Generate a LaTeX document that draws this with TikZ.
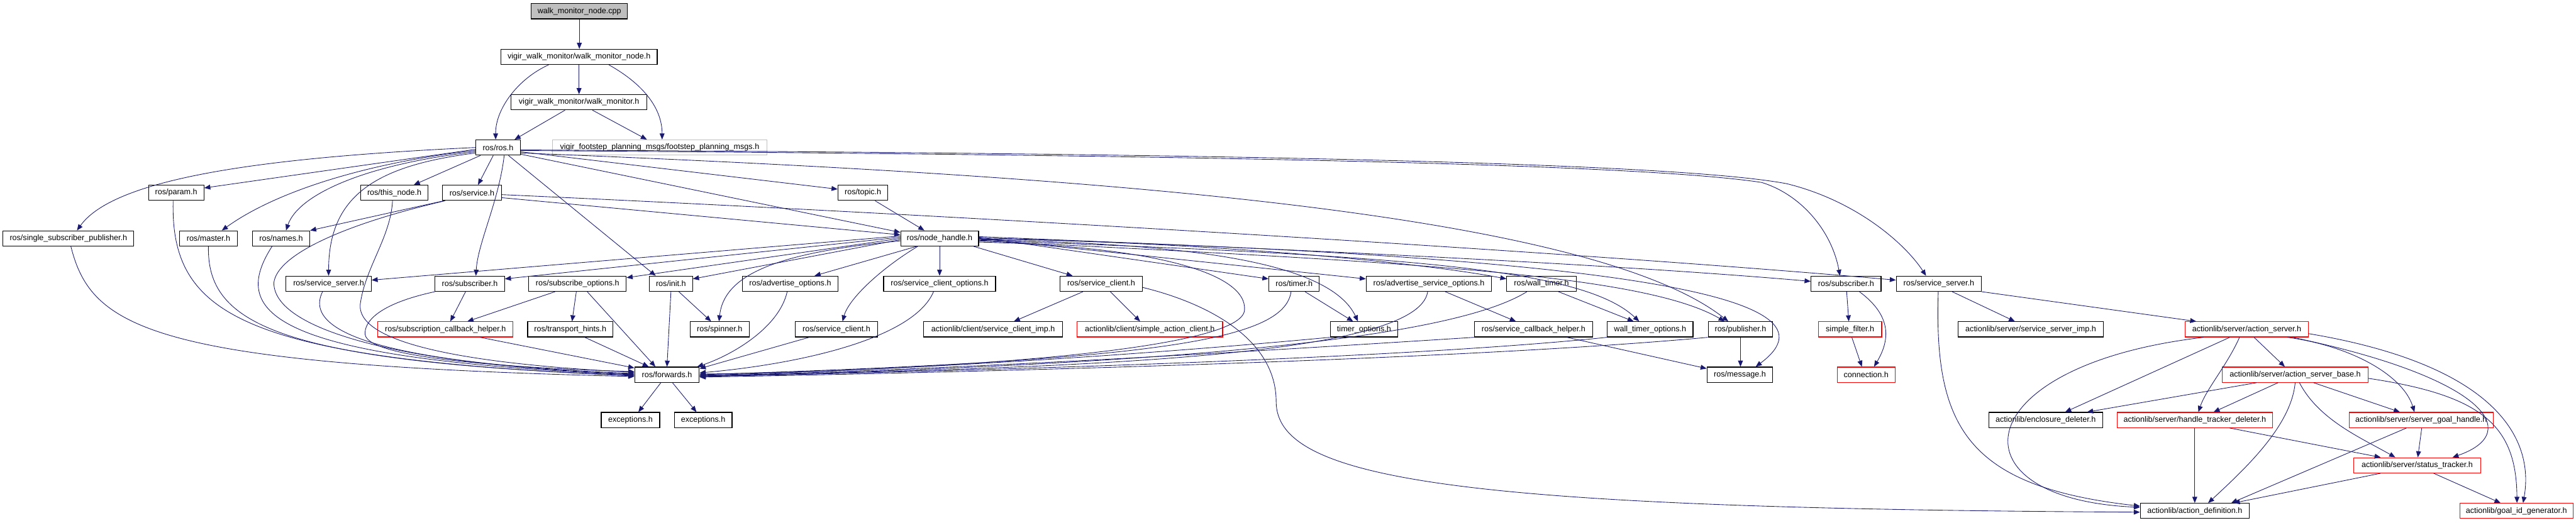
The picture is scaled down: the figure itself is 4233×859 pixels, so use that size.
\documentclass[tikz,border=0pt]{standalone}
\usepackage{fontspec}
\setmainfont{Liberation Sans}
\usetikzlibrary{arrows.meta}
\definecolor{edgec}{RGB}{25,25,112}
\definecolor{rootfill}{RGB}{191,191,191}
\definecolor{graybd}{RGB}{191,191,191}
\begin{document}
\begin{tikzpicture}[x=1pt,y=-1pt,
  box/.style={draw=black,line width=1.2pt,fill=white,minimum height=25pt,inner sep=0pt,font=\fontsize{13}{15}\selectfont},
  rootbox/.style={box,fill=rootfill},
  greybox/.style={box,draw=graybd},
  redbox/.style={box,draw=red},
  e/.style={draw=edgec,line width=0.9pt,-{Triangle[length=10pt,width=8pt]}}]
\useasboundingbox (0,0) rectangle (4233,859);
% nodes
\node[rootbox,minimum width=158pt] (cpp) at (952,18.5) {walk\_monitor\_node.cpp};
\node[box,minimum width=257pt] (wmn) at (951.5,93.5) {vigir\_walk\_monitor/walk\_monitor\_node.h};
\node[box,minimum width=223pt] (wm) at (951.5,168) {vigir\_walk\_monitor/walk\_monitor.h};
\node[box,minimum width=73pt] (ros) at (818.5,242.5) {ros/ros.h};
\node[greybox,minimum width=352pt] (fsp) at (1084,242.5) {vigir\_footstep\_planning\_msgs/footstep\_planning\_msgs.h};
\node[box,minimum width=91pt] (param) at (289.5,317) {ros/param.h};
\node[box,minimum width=110pt] (thisnode) at (648,317) {ros/this\_node.h};
\node[box,minimum width=97pt] (service) at (775.5,317) {ros/service.h};
\node[box,minimum width=82pt] (topic) at (1418,317) {ros/topic.h};
\node[box,minimum width=215pt] (ssp) at (112.5,392) {ros/single\_subscriber\_publisher.h};
\node[box,minimum width=95pt] (master) at (342.5,392) {ros/master.h};
\node[box,minimum width=94pt] (names) at (462,392) {ros/names.h};
\node[box,minimum width=128pt] (nh) at (1544,392) {ros/node\_handle.h};
\node[box,minimum width=140pt] (ssrvL) at (540,466.5) {ros/service\_server.h};
\node[box,minimum width=114pt] (subL) at (772,466.5) {ros/subscriber.h};
\node[box,minimum width=160pt] (subopt) at (949,466.5) {ros/subscribe\_options.h};
\node[box,minimum width=71pt] (init) at (1102.5,466.5) {ros/init.h};
\node[box,minimum width=157pt] (advopt) at (1298.5,466.5) {ros/advertise\_options.h};
\node[box,minimum width=184pt] (scopt) at (1544,466.5) {ros/service\_client\_options.h};
\node[box,minimum width=135pt] (scU) at (1809.5,466.5) {ros/service\_client.h};
\node[box,minimum width=83pt] (timer) at (2126.5,466.5) {ros/timer.h};
\node[box,minimum width=206pt] (advsrvopt) at (2348,466.5) {ros/advertise\_service\_options.h};
\node[box,minimum width=114pt] (wtimer) at (2533,466.5) {ros/wall\_timer.h};
\node[box,minimum width=115pt] (subR) at (3033.5,466.5) {ros/subscriber.h};
\node[box,minimum width=140pt] (ssrvR) at (3186,466.5) {ros/service\_server.h};
\node[redbox,minimum width=222pt] (sch) at (732,541.5) {ros/subscription\_callback\_helper.h};
\node[box,minimum width=140pt] (th) at (937,541.5) {ros/transport\_hints.h};
\node[box,minimum width=97pt] (spinner) at (1182.5,541.5) {ros/spinner.h};
\node[box,minimum width=135pt] (scL) at (1374.5,541.5) {ros/service\_client.h};
\node[box,minimum width=228pt] (scimp) at (1632,541.5) {actionlib/client/service\_client\_imp.h};
\node[redbox,minimum width=239pt] (sac) at (1889.5,541.5) {actionlib/client/simple\_action\_client.h};
\node[box,minimum width=111pt] (topt) at (2241.5,541.5) {timer\_options.h};
\node[box,minimum width=194pt] (srvcb) at (2520,541.5) {ros/service\_callback\_helper.h};
\node[box,minimum width=141pt] (wtopt) at (2711.5,541.5) {wall\_timer\_options.h};
\node[box,minimum width=106pt] (pub) at (2860,541.5) {ros/publisher.h};
\node[redbox,minimum width=104pt] (sf) at (3040,541.5) {simple\_filter.h};
\node[box,minimum width=238pt] (ssimp) at (3337,541.5) {actionlib/server/service\_server\_imp.h};
\node[redbox,minimum width=202pt] (as) at (3692,541.5) {actionlib/server/action\_server.h};
\node[box,minimum width=106pt] (fwd) at (1096,616) {ros/forwards.h};
\node[box,minimum width=108pt] (msg) at (2859,616) {ros/message.h};
\node[redbox,minimum width=95pt] (conn) at (3066.5,616) {connection.h};
\node[redbox,minimum width=239pt] (asb) at (3771.5,616) {actionlib/server/action\_server\_base.h};
\node[box,minimum width=96pt] (exc1) at (1036,690.5) {exceptions.h};
\node[box,minimum width=95pt] (exc2) at (1155.5,690.5) {exceptions.h};
\node[box,minimum width=187pt] (encl) at (3361.5,690.5) {actionlib/enclosure\_deleter.h};
\node[redbox,minimum width=255pt] (htd) at (3606.5,690.5) {actionlib/server/handle\_tracker\_deleter.h};
\node[redbox,minimum width=237pt] (sgh) at (3978.5,690.5) {actionlib/server/server\_goal\_handle.h};
\node[redbox,minimum width=208pt] (st) at (3972,765) {actionlib/server/status\_tracker.h};
\node[box,minimum width=179pt] (ad) at (3606.5,840) {actionlib/action\_definition.h};
\node[redbox,minimum width=186pt] (gid) at (4135,840) {actionlib/goal\_id\_generator.h};
% top edges
\draw[e] (cpp.south) -- (cpp.south |- wmn.north);
\draw[e] ([xshift=-50pt]wmn.south) .. controls (850,130) and (814,180) .. ([xshift=-4pt]ros.north);
\draw[e] (wmn.south) -- (wm.north);
\draw[e] ([xshift=49pt]wmn.south) .. controls (1060,140) and (1088,180) .. ([xshift=4pt]fsp.north);
\draw[e] ([xshift=-23pt]wm.south) -- ([xshift=27pt]ros.north);
\draw[e] ([xshift=22pt]wm.south) -- ([xshift=-21pt]fsp.north);
% ros/ros.h
\draw[e] (ros.west) .. controls (450,258) and (190,290) .. ([xshift=14pt]ssp.north);
\draw[e] ([yshift=-3pt]ros.west) -- ([yshift=8pt]param.east);
\draw[e] ([yshift=-5pt]ros.west) .. controls (620,265) and (460,310) .. ([xshift=22pt]master.north);
\draw[e] ([yshift=-7pt]ros.west) .. controls (600,270) and (490,320) .. ([xshift=8pt]names.north);
\draw[e] ([yshift=-9pt]ros.west) .. controls (620,272) and (540,320) .. (ssrvL.north);
\draw[e] ([xshift=-29pt]ros.south) -- ([xshift=32pt]thisnode.north);
\draw[e] ([xshift=-8pt]ros.south) -- ([xshift=10pt]service.north);
\draw[e] ([xshift=10pt]ros.south) .. controls (820,330) and (785,400) .. ([xshift=10pt]subL.north);
\draw[e] ([xshift=17pt]ros.south) -- ([xshift=-25pt]init.north);
\draw[e] ([yshift=-5pt]ros.east) .. controls (2000,255) and (2700,270) .. (2895,300) .. controls (2960,320) and (3010,380) .. ([xshift=-10pt]subR.north);
\draw[e] ([yshift=-4pt]ros.east) .. controls (2000,252) and (2750,267) .. (2936,302) .. controls (3050,330) and (3130,400) .. ([xshift=-21pt]ssrvR.north);
\draw[e] ([yshift=-7pt]ros.east) -- ([yshift=6pt]topic.west);
\draw[e] ([yshift=-9pt]ros.east) .. controls (1700,285) and (2600,340) .. ([xshift=-20pt]pub.north);
\draw[e] ([yshift=-11pt]ros.east) -- ([yshift=10pt]nh.west);
% service.h, topic.h
\draw[e] ([xshift=3pt]service.south west) -- (names.north east);
\draw[e] ([xshift=5pt]service.south west) .. controls (560,370) and (455,420) .. (450,465) .. controls (450,540) and (650,600) .. ([yshift=1pt]fwd.west);
\draw[e] ([yshift=-8pt]service.east) -- ([yshift=6pt]nh.west);
\draw[e] ([yshift=-3pt]service.east) .. controls (1600,355) and (2600,415) .. ([yshift=6pt]ssrvR.west);
\draw[e] ([xshift=20pt]topic.south) -- ([xshift=-25pt]nh.north);
% into forwards.h from the left
\draw[e] ([xshift=4pt]ssp.south) .. controls (150,540) and (250,600) .. ([yshift=-3pt]fwd.west);
\draw[e] ([xshift=-5pt]param.south) .. controls (280,520) and (400,590) .. ([yshift=-2pt]fwd.west);
\draw[e] (master.south) .. controls (340,530) and (450,595) .. ([yshift=-1pt]fwd.west);
\draw[e] ([xshift=-15pt]names.south) .. controls (380,510) and (430,590) .. (fwd.west);
\draw[e] ([xshift=-10pt]ssrvL.south) .. controls (490,560) and (700,600) .. ([yshift=2pt]fwd.west);
\draw[e] ([xshift=-3pt]thisnode.south) .. controls (642,390) and (600,440) .. (592,500) .. controls (585,570) and (800,600) .. ([yshift=4pt]fwd.west);
\draw[e] (subL.south west) .. controls (620,500) and (598,530) .. (600,550) .. controls (605,590) and (850,605) .. ([yshift=5pt]fwd.west);
\draw[e] ([xshift=57pt]sch.south) -- ([yshift=-2pt]fwd.north west);
\draw[e] ([xshift=24pt]th.south) -- ([xshift=-30pt]fwd.north);
\draw[e] ([xshift=16pt]subopt.south) -- ([xshift=-19pt]fwd.north);
\draw[e] (init.south) -- (fwd.north);
\draw[e] ([xshift=-37pt]subopt.south) -- ([xshift=36pt]sch.north);
\draw[e] ([xshift=-2pt]subopt.south) -- ([xshift=3pt]th.north);
\draw[e] ([xshift=-7pt]subL.south) -- ([xshift=8pt]sch.north);
\draw[e] ([xshift=13pt]init.south) -- ([xshift=-14pt]spinner.north);
% into forwards.h from the right
\draw[e] ([xshift=-5pt]advopt.south) .. controls (1280,540) and (1200,585) .. ([xshift=-4pt]fwd.north east);
\draw[e] ([xshift=-45pt]scL.south) -- ([yshift=10pt]fwd.east);
\draw[e] ([xshift=-10pt]scopt.south) .. controls (1500,560) and (1300,600) .. ([yshift=3pt]fwd.east);
\draw[e] ([yshift=-6pt]nh.east) .. controls (1900,405) and (2050,450) .. (2045,510) .. controls (2040,580) and (1500,610) .. ([yshift=1pt]fwd.east);
\draw[e] ([xshift=-5pt]timer.south) .. controls (2110,560) and (1900,592) .. (fwd.east);
\draw[e] (topt.south west) .. controls (2000,572) and (1600,605) .. ([yshift=-1pt]fwd.east);
\draw[e] ([xshift=-2pt]advsrvopt.south) .. controls (2330,585) and (1800,605) .. ([yshift=-2pt]fwd.east);
\draw[e] (srvcb.south west) .. controls (2100,575) and (1600,607) .. ([yshift=-2pt]fwd.east);
\draw[e] ([xshift=-24pt]wtimer.south) .. controls (2380,560) and (1900,600) .. ([yshift=-3pt]fwd.east);
\draw[e] (wtopt.south west) .. controls (2300,590) and (1600,610) .. ([yshift=-3pt]fwd.east);
\draw[e] (pub.south west) .. controls (2400,592) and (1600,612) .. ([yshift=-4pt]fwd.east);
\draw[e] ([xshift=-10pt]fwd.south) -- ([xshift=13pt]exc1.north);
\draw[e] ([xshift=9pt]fwd.south) -- ([xshift=-11pt]exc2.north);
% node_handle.h
\draw[e] ([yshift=4pt]nh.west) -- ([yshift=6pt]ssrvL.east);
\draw[e] ([yshift=2pt]nh.west) -- ([yshift=8pt]subL.east);
\draw[e] (nh.west) -- ([yshift=10pt]subopt.east);
\draw[e] ([yshift=-2pt]nh.west) -- ([yshift=8pt]init.east);
\draw[e] ([yshift=-4pt]nh.west) .. controls (1280,415) and (1190,450) .. ([xshift=-1pt]spinner.north);
\draw[e] ([xshift=-38pt]nh.south) -- ([xshift=40pt]advopt.north);
\draw[e] ([xshift=-36pt]nh.south) .. controls (1450,440) and (1395,490) .. ([xshift=10pt]scL.north);
\draw[e] (nh.south) -- (scopt.north);
\draw[e] ([xshift=56pt]nh.south) -- ([xshift=-47pt]scU.north);
\draw[e] ([yshift=2pt]nh.east) -- ([yshift=8pt]timer.west);
\draw[e] (nh.east) -- ([yshift=8pt]advsrvopt.west);
\draw[e] ([yshift=-2pt]nh.east) .. controls (1900,400) and (2180,420) .. ([xshift=-10pt]topt.north);
\draw[e] ([yshift=-1pt]nh.east) .. controls (1900,395) and (2300,425) .. ([yshift=8pt]wtimer.west);
\draw[e] ([yshift=-3pt]nh.east) .. controls (2300,420) and (2600,440) .. ([xshift=-18pt]wtopt.north);
\draw[e] ([yshift=-4pt]nh.east) .. controls (2300,430) and (2700,450) .. ([xshift=-26pt]pub.north);
\draw[e] ([yshift=1pt]nh.east) .. controls (2600,420) and (3050,480) .. ([xshift=26pt]msg.north);
\draw[e] ([yshift=3pt]nh.east) .. controls (2000,405) and (2600,430) .. ([yshift=4pt]subR.west);
% service_client.h (upper)
\draw[e] ([xshift=-30pt]scU.south) -- ([xshift=34pt]scimp.north);
\draw[e] ([xshift=15pt]scU.south) -- ([xshift=-16pt]sac.north);
\draw[e] ([yshift=-6pt]scU.east) .. controls (1990,500) and (2097,560) .. (2097,660) .. controls (2097,790) and (2400,836) .. ([yshift=-2pt]ad.west);
% middle
\draw[e] ([xshift=18pt]timer.south) -- ([xshift=-18pt]topt.north);
\draw[e] ([xshift=27pt]advsrvopt.south) -- ([xshift=-29pt]srvcb.north);
\draw[e] ([xshift=28pt]wtimer.south) -- ([xshift=-27pt]wtopt.north);
\draw[e] ([xshift=55pt]srvcb.south) -- ([yshift=-3pt]msg.north west);
\draw[e] (pub.south) -- ([xshift=1pt]msg.north);
\draw[e] ([xshift=1pt]subR.south) -- ([xshift=-2pt]sf.north);
\draw[e] ([xshift=22pt]subR.south) .. controls (3110,520) and (3105,560) .. ([xshift=13pt]conn.north);
\draw[e] ([xshift=3pt]sf.south) -- ([xshift=-7pt]conn.north);
\draw[e] ([xshift=22pt]ssrvR.south) -- ([xshift=-26pt]ssimp.north);
\draw[e] (ssrvR.south east) -- ([xshift=-83pt]as.north);
\draw[e] ([xshift=-1pt]ssrvR.south) .. controls (3178,700) and (3230,800) .. ([yshift=8pt]ad.west);
% actionlib server
\draw[e] ([xshift=-71pt]as.south) .. controls (3230,600) and (3200,820) .. ([yshift=6pt]ad.west);
\draw[e] ([xshift=-28pt]as.south) -- ([xshift=32pt]encl.north);
\draw[e] ([xshift=-12pt]as.south) .. controls (3660,600) and (3625,640) .. ([xshift=6pt]htd.north);
\draw[e] ([xshift=12pt]as.south) -- ([xshift=-17pt]asb.north);
\draw[e] ([xshift=67pt]as.south) .. controls (3870,570) and (3950,620) .. ([xshift=-11pt]sgh.north);
\draw[e] ([xshift=75pt]as.south) .. controls (4080,620) and (4150,710) .. ([xshift=58pt]st.north);
\draw[e] ([yshift=-7pt]as.east) .. controls (4100,600) and (4165,720) .. ([xshift=11pt]gid.north);
\draw[e] ([xshift=-63pt]asb.south) -- ([xshift=68pt]encl.north);
\draw[e] ([xshift=-28pt]asb.south) -- ([xshift=31pt]htd.north);
\draw[e] (asb.south) .. controls (3765,700) and (3690,770) .. ([xshift=22pt]ad.north);
\draw[e] ([xshift=7pt]asb.south) .. controls (3810,690) and (3880,720) .. ([xshift=-36pt]st.north);
\draw[e] ([xshift=30pt]asb.south) -- ([xshift=-35pt]sgh.north);
\draw[e] ([yshift=-6pt]asb.east) .. controls (4080,650) and (4135,700) .. ([xshift=1pt]gid.north);
\draw[e] (htd.south) -- (ad.north);
\draw[e] ([xshift=57pt]htd.south) -- ([xshift=-60pt]st.north);
\draw[e] ([xshift=-24pt]sgh.south) -- ([xshift=60pt]ad.north);
\draw[e] ([xshift=1pt]sgh.south) -- ([xshift=1pt]st.north);
\draw[e] ([xshift=-60pt]st.south) -- ([xshift=64pt]ad.north);
\draw[e] ([xshift=27pt]st.south) -- ([xshift=-26pt]gid.north);
\end{tikzpicture}
\end{document}
